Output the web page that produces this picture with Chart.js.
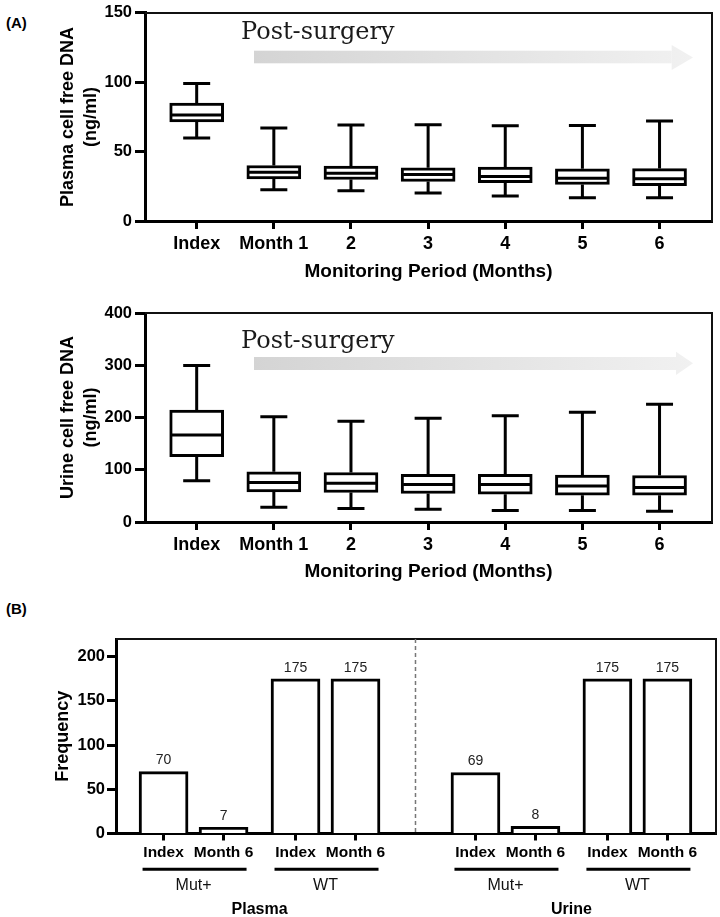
<!DOCTYPE html>
<html><head><meta charset="utf-8">
<script src="https://cdn.jsdelivr.net/npm/chart.js@4.4.0/dist/chart.umd.min.js"></script>
<style>
html,body{margin:0;padding:0;background:#fff;width:720px;height:917px;overflow:hidden;position:relative}
canvas{position:absolute;left:0}
.lbl{position:absolute;font:bold 15px "Liberation Sans",Arial,sans-serif;line-height:17px;color:#000}
</style></head><body>
<div class="lbl" style="left:6px;top:14px">(A)</div>
<div class="lbl" style="left:6px;top:600px">(B)</div>
<canvas id="c1" width="720" height="300" style="top:0"></canvas>
<canvas id="c2" width="720" height="300" style="top:300px"></canvas>
<canvas id="c3" width="720" height="317" style="top:600px"></canvas>
<script>
// ---- data ----
const months = ['Index','Month 1','2','3','4','5','6'];
const plasmaMin = [59.9,22.5,21.8,20.1,18.0,16.8,16.8];
const plasmaQ1  = [71.4,30.4,29.9,28.5,27.6,26.3,25.4];
const plasmaMed = [76.4,35.2,34.5,33.5,32.1,30.9,30.4];
const plasmaQ3  = [85.0,40.0,39.5,38.3,38.8,37.6,37.8];
const plasmaMax = [99.1,67.0,69.2,69.4,68.7,68.9,72.0];
const urineMin = [78.8,28.2,25.7,24.4,21.8,21.8,20.5];
const urineQ1  = [124.8,57.6,56.4,54.5,53.2,51.2,51.2];
const urineMed = [166.4,75.6,74.3,71.8,71.8,69.1,66.0];
const urineQ3  = [214.4,96.0,94.8,91.0,91.0,89.6,89.0];
const urineMax = [299.4,201.5,192.7,198.4,203.5,210.0,225.3];
const freqSamples = ['Plasma','Urine'];
const freqGroups = ['Mut+','WT'];
const freqTimes = ['Index','Month 6'];
const plasmaFreq = [70,7,175,175];
const urineFreq = [69,8,175,175];
const freqTicks = [0,50,100,150,200];

// ---- layout (slot positions on the x axis of panel B) ----
const slots = [0,1,2.2,3.2,5.2,6.2,7.4,8.4];
const sepSlot = 4.2;

Chart.defaults.font.family = '"Liberation Sans", Arial, Helvetica, sans-serif';
Chart.defaults.color = '#000';

const frame = {
  id:'frame',
  afterDraw(chart){
    const {ctx, chartArea:a} = chart;
    ctx.save(); ctx.strokeStyle='#111'; ctx.lineWidth=2;
    ctx.beginPath(); ctx.moveTo(a.left, a.top); ctx.lineTo(a.right, a.top); ctx.lineTo(a.right, a.bottom+1); ctx.stroke();
    ctx.restore();
  }
};

function whiskers(mins, meds, maxs, q1s, q3s){
  return {
    id:'whiskers',
    afterDatasetsDraw(chart){
      const ctx = chart.ctx, y = chart.scales.y;
      const meta = chart.getDatasetMeta(0);
      ctx.save(); ctx.strokeStyle='#000'; ctx.lineWidth=3; ctx.lineCap='butt';
      meta.data.forEach((bar,i)=>{
        const cx = bar.x, hw = bar.width/2;
        const yMed = y.getPixelForValue(meds[i]);
        const yMax = y.getPixelForValue(maxs[i]), yMin = y.getPixelForValue(mins[i]);
        const yQ3 = y.getPixelForValue(q3s[i]), yQ1 = y.getPixelForValue(q1s[i]);
        ctx.beginPath();
        ctx.moveTo(cx-hw+2, yMed); ctx.lineTo(cx+hw-2, yMed);
        ctx.moveTo(cx, yQ3); ctx.lineTo(cx, yMax);
        ctx.moveTo(cx-13.5, yMax); ctx.lineTo(cx+13.5, yMax);
        ctx.moveTo(cx, yQ1); ctx.lineTo(cx, yMin);
        ctx.moveTo(cx-13.5, yMin); ctx.lineTo(cx+13.5, yMin);
        ctx.stroke();
      });
      ctx.restore();
    }
  };
}

function arrow(o){
  return {
    id:'arrow',
    beforeDatasetsDraw(chart){
      const ctx = chart.ctx;
      ctx.save();
      const g = ctx.createLinearGradient(o.x0,0,o.xt,0);
      g.addColorStop(0,'#d4d4d4'); g.addColorStop(1,'#f1f1f1');
      ctx.fillStyle = g;
      ctx.fillRect(o.x0, o.bt, o.xh-o.x0, o.bb-o.bt);
      ctx.beginPath(); ctx.moveTo(o.xh, o.ht); ctx.lineTo(o.xt, (o.ht+o.hb)/2); ctx.lineTo(o.xh, o.hb); ctx.closePath();
      ctx.fill();
      ctx.fillStyle = '#1a1a1a';
      ctx.font = '24px "DejaVu Serif", "Liberation Serif", serif';
      ctx.textBaseline = 'alphabetic'; ctx.textAlign = 'left';
      ctx.fillText('Post-surgery', o.tx, o.ty);
      ctx.restore();
    }
  };
}

function boxChart(id, mins, q1s, meds, q3s, maxs, yMax, yStep, yTitle, padTop, xh, anno){
  return new Chart(document.getElementById(id), {
    type:'bar',
    data:{ datasets:[{
      data: months.map((m,i)=>({x:i, y:[q1s[i], q3s[i]]})),
      backgroundColor:'#fff', borderColor:'#000', borderWidth:3, borderSkipped:false, barThickness:54
    }]},
    options:{
      responsive:false, animation:false, devicePixelRatio:1,
      layout:{padding:{top:padTop, right:8, left:0, bottom:0}},
      plugins:{legend:{display:false}, tooltip:{enabled:false}},
      scales:{
        x:{ type:'linear', min:-0.67, max:6.68, offset:false,
          afterBuildTicks: s => { s.ticks = months.map((m,i)=>({value:i})); },
          ticks:{ callback:(v)=>months[v], font:{size:18, weight:'bold'}, color:'#000', padding:4, maxRotation:0, autoSkip:false },
          grid:{ display:true, drawOnChartArea:false, drawTicks:true, tickLength:8, tickWidth:3, color:'#000', offset:false },
          border:{display:true, width:3, color:'#000'},
          title:{display:true, text:'Monitoring Period (Months)', font:{size:19, weight:'bold'}, color:'#000', padding:{top:0, bottom:17}},
          afterFit: s => { s.height = xh; } },
        y:{ min:0, max:yMax,
          ticks:{ stepSize:yStep, font:{size:16.5, weight:'bold'}, color:'#000', padding:3 },
          grid:{ drawOnChartArea:false, drawTicks:true, tickLength:10, tickWidth:3, color:'#000' },
          border:{display:true, width:3, color:'#000'},
          title:{display:true, text:[yTitle,'(ng/ml)'], font:{size:18, weight:'bold', lineHeight:1.3}, color:'#000', padding:{top:56, bottom:0}},
          afterFit: s => { s.width = 145; } }
      }
    },
    plugins:[frame, whiskers(mins, meds, maxs, q1s, q3s), arrow(anno)]
  });
}

boxChart('c1', plasmaMin, plasmaQ1, plasmaMed, plasmaQ3, plasmaMax, 150, 50, 'Plasma cell free DNA', 12, 79,
  {x0:254, xh:671.7, xt:693, bt:50.7, bb:63.3, ht:45, hb:70, tx:241, ty:39.3});
boxChart('c2', urineMin, urineQ1, urineMed, urineQ3, urineMax, 400, 100, 'Urine cell free DNA', 13, 78,
  {x0:254, xh:676, xt:693, bt:57, bb:70, ht:51.7, hb:75, tx:241, ty:47.7});

// ---- panel B ----
const freqValues = plasmaFreq.concat(urineFreq);
const freqLabels = [];
freqSamples.forEach(s=>freqGroups.forEach(g=>freqTimes.forEach(t=>freqLabels.push(t))));

const panelB = {
  id:'panelB',
  afterDraw(chart){
    const {ctx, chartArea:a} = chart; const x = chart.scales.x;
    const meta = chart.getDatasetMeta(0);
    ctx.save();
    // separator
    ctx.strokeStyle='#777'; ctx.lineWidth=1.5; ctx.setLineDash([4,3]);
    const sx = x.getPixelForValue(sepSlot);
    ctx.beginPath(); ctx.moveTo(sx, a.top); ctx.lineTo(sx, a.bottom); ctx.stroke();
    ctx.setLineDash([]);
    // value labels
    ctx.fillStyle='#222'; ctx.font='14px "Liberation Sans", Arial, sans-serif';
    ctx.textAlign='center'; ctx.textBaseline='middle';
    meta.data.forEach((b,i)=>{ ctx.fillText(String(freqValues[i]), b.x, b.y-11); });
    // group lines & labels
    ctx.strokeStyle='#000'; ctx.lineWidth=3;
    freqSamples.forEach((s,si)=>{
      freqGroups.forEach((g,gi)=>{
        const i0 = si*4 + gi*2;
        const cx = (meta.data[i0].x + meta.data[i0+1].x)/2;
        ctx.beginPath(); ctx.moveTo(cx-51, 269.3); ctx.lineTo(cx+53, 269.3); ctx.stroke();
        ctx.font='16px "Liberation Sans", Arial, sans-serif'; ctx.fillStyle='#111';
        ctx.fillText(g, cx, 285.5);
      });
      const c = (meta.data[si*4].x + meta.data[si*4+3].x)/2;
      ctx.font='bold 16px "Liberation Sans", Arial, sans-serif'; ctx.fillStyle='#000';
      ctx.fillText(s, c, 309.5);
    });
    ctx.restore();
  }
};

new Chart(document.getElementById('c3'), {
  type:'bar',
  data:{ datasets:[{
    data: freqValues.map((v,i)=>({x:slots[i], y:v})),
    backgroundColor:'#fff', borderColor:'#000', borderWidth:3, borderSkipped:'start', barThickness:49
  }]},
  options:{
    responsive:false, animation:false, devicePixelRatio:1,
    layout:{padding:{top:39, right:4, left:0, bottom:0}},
    plugins:{legend:{display:false}, tooltip:{enabled:false}},
    scales:{
      x:{ type:'linear', min:-0.793, max:9.21, offset:false,
        afterBuildTicks: s => { s.ticks = slots.map(v=>({value:v})); },
        ticks:{ callback:(v,i)=>freqLabels[i], font:{size:15.5, weight:'bold'}, color:'#000', padding:3, maxRotation:0, autoSkip:false },
        grid:{ display:true, drawOnChartArea:false, drawTicks:true, tickLength:7, tickWidth:3, color:'#000', offset:false },
        border:{display:true, width:3, color:'#000'},
        afterFit: s => { s.height = 83.5; } },
      y:{ min:0, max:220,
        afterBuildTicks: s => { s.ticks = freqTicks.map(v=>({value:v})); },
        ticks:{ font:{size:16.5, weight:'bold'}, color:'#000', padding:2 },
        grid:{ drawOnChartArea:false, drawTicks:true, tickLength:9, tickWidth:3, color:'#000' },
        border:{display:true, width:3, color:'#000'},
        title:{display:true, text:'Frequency', font:{size:18, weight:'bold'}, color:'#000', padding:{top:52, bottom:0}},
        afterFit: s => { s.width = 116; } }
    }
  },
  plugins:[frame, panelB]
});
</script>
</body></html>
